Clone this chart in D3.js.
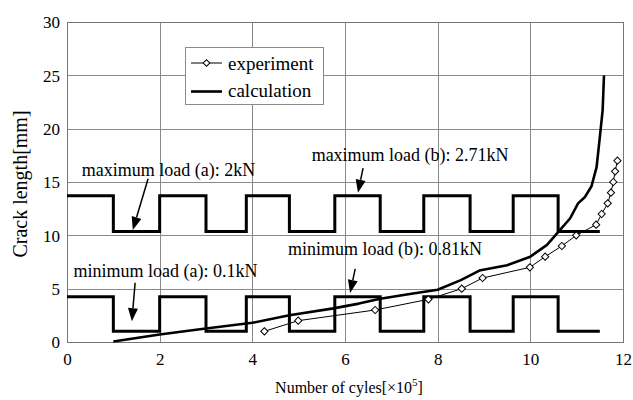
<!DOCTYPE html>
<html><head><meta charset="utf-8">
<script src="https://cdn.jsdelivr.net/npm/d3@7"></script>
<style>body{margin:0;background:#fff;}svg{display:block;}svg text{font-family:"Liberation Serif","DejaVu Serif",serif !important;fill:#000;}</style>
</head><body><svg id="c" width="633" height="400"></svg>
<script>
// ---- data ----
const xTicks = [0, 2, 4, 6, 8, 10, 12];
const yTicks = [0, 5, 10, 15, 20, 25, 30];
const expX = [4.26, 4.99, 6.65, 7.8, 8.52, 8.97, 9.99, 10.32, 10.68, 10.99, 11.42, 11.54, 11.67, 11.74, 11.79, 11.83, 11.88];
const expY = [1.0, 2.0, 3.0, 4.0, 5.0, 6.0, 7.0, 8.0, 9.0, 10.0, 11.0, 12.0, 13.0, 14.0, 15.0, 16.0, 17.0];
const calcX = [1.0, 2.0, 2.87, 4.0, 4.8, 5.75, 6.3, 6.76, 7.4, 8.0, 8.5, 8.9, 9.5, 10.0, 10.36, 10.6, 10.86, 11.03, 11.18, 11.32, 11.43, 11.5, 11.56, 11.59];
const calcY = [0.05, 0.7, 1.2, 1.8, 2.5, 3.15, 3.6, 4.05, 4.5, 4.9, 5.8, 6.7, 7.2, 8.0, 9.1, 10.3, 11.6, 13.0, 13.6, 14.6, 16.4, 19.2, 21.7, 25.0];
const loadBreaks = [0, 1.0, 2.0, 3.0, 3.87, 4.8, 5.78, 6.76, 7.7, 8.7, 9.63, 10.6, 11.5];
const loadPhase = [1, 0, 1, 0, 1, 0, 1, 0, 1, 0, 1, 0, 0]; // 1 = high, 0 = low
const maxLoadLevels = [10.35, 13.7];
const minLoadLevels = [1.0, 4.25];
const seriesNames = ["experiment", "calculation"];
const annotations = [
  {text: "maximum load (a): 2kN", tx: 0.32, ty: 15.6, ax1: 1.75, ay1: 15.3, ax2: 1.42, ay2: 10.5},
  {text: "maximum load (b): 2.71kN", tx: 5.28, ty: 17.0, ax1: 6.39, ay1: 16.3, ax2: 6.28, ay2: 14.0},
  {text: "minimum load (a): 0.1kN", tx: 0.14, ty: 6.12, ax1: 1.47, ay1: 5.55, ax2: 1.40, ay2: 1.95},
  {text: "minimum load (b): 0.81kN", tx: 4.77, ty: 8.16, ax1: 6.22, ay1: 6.85, ax2: 6.11, ay2: 4.6}
];

// ---- layout ----
const FONT = '"Liberation Serif","DejaVu Serif",serif';
const L = 67, R = 623, T = 22, B = 342;
const svg = d3.select("#c");
const x = d3.scaleLinear().domain([0, 12]).range([L, R]);
const y = d3.scaleLinear().domain([0, 30]).range([B, T]);
const gridC = "#8a8a8a";

// grid
const g = svg.append("g");
g.selectAll(".gx").data(xTicks.slice(1, -1)).join("line")
  .attr("x1", d => Math.round(x(d)) + 0.5).attr("x2", d => Math.round(x(d)) + 0.5)
  .attr("y1", T).attr("y2", B).attr("stroke", gridC).attr("stroke-width", 1);
g.selectAll(".gy").data(yTicks.slice(1, -1)).join("line")
  .attr("y1", d => Math.round(y(d)) + 0.5).attr("y2", d => Math.round(y(d)) + 0.5)
  .attr("x1", L).attr("x2", R).attr("stroke", gridC).attr("stroke-width", 1);
svg.append("rect").attr("x", L + 0.5).attr("y", T + 0.5).attr("width", R - L).attr("height", B - T)
  .attr("fill", "none").attr("stroke", "#777").attr("stroke-width", 1);

// axes tick labels via d3 axes
const xAxis = svg.append("g").attr("transform", `translate(0,${B})`)
  .call(d3.axisBottom(x).tickValues(xTicks).tickSize(0).tickPadding(11).tickFormat(d3.format("d")));
const yAxis = svg.append("g").attr("transform", `translate(${L},0)`)
  .call(d3.axisLeft(y).tickValues(yTicks).tickSize(0).tickPadding(7).tickFormat(d3.format("d")));
[xAxis, yAxis].forEach(a => {
  a.attr("font-family", FONT).attr("font-size", 17);
  a.select(".domain").remove();
  a.selectAll("text").attr("font-size", 17).style("font-family", FONT);
});
yAxis.selectAll("text").attr("dy", "0.35em");

// axis titles
const xt = svg.append("text").attr("x", 349).attr("y", 393).attr("text-anchor", "middle").attr("font-size", 16);
xt.append("tspan").text("Number of cyles[×10");
xt.append("tspan").text("5").attr("font-size", 11).attr("dy", -7);
xt.append("tspan").text("]").attr("dy", 7);
svg.append("text").attr("transform", `translate(27,184) rotate(-90)`)
  .attr("text-anchor", "middle").attr("font-size", 20).text("Crack length[mm]");

// load square waves
const step = d3.line().x(d => x(d[0])).y(d => y(d[1])).curve(d3.curveStepAfter);
[maxLoadLevels, minLoadLevels].forEach(lv => {
  const pts = loadBreaks.map((b, i) => [b, lv[loadPhase[i]]]);
  svg.append("path").attr("d", step(pts)).attr("fill", "none").attr("stroke", "#000")
    .attr("stroke-width", 3).attr("stroke-linejoin", "miter");
});

// calculation
const line = d3.line().x(d => x(d[0])).y(d => y(d[1]));
const calc = calcX.map((v, i) => [v, calcY[i]]);
svg.append("path").attr("d", line(calc)).attr("fill", "none").attr("stroke", "#000")
  .attr("stroke-width", 2.6).attr("stroke-linejoin", "round");

// experiment
const exp = expX.map((v, i) => [v, expY[i]]);
svg.append("path").attr("d", line(exp)).attr("fill", "none").attr("stroke", "#000").attr("stroke-width", 1);
svg.selectAll(".pt").data(exp).join("path")
  .attr("d", d3.symbol().type(d3.symbolSquare).size(26)())
  .attr("transform", d => `translate(${x(d[0])},${y(d[1])}) rotate(45)`)
  .attr("fill", "#fff").attr("stroke", "#000").attr("stroke-width", 1);

// annotations
annotations.forEach(a => {
  svg.append("text").attr("x", x(a.tx)).attr("y", y(a.ty)).attr("font-size", 18).text(a.text);
  const x1 = x(a.ax1), y1 = y(a.ay1), x2 = x(a.ax2), y2 = y(a.ay2);
  const ang = Math.atan2(y2 - y1, x2 - x1);
  const hl = 13, hw = 5;
  const bx = x2 - hl * Math.cos(ang), by = y2 - hl * Math.sin(ang);
  svg.append("line").attr("x1", x1).attr("y1", y1).attr("x2", bx).attr("y2", by)
    .attr("stroke", "#000").attr("stroke-width", 1.5);
  const px = -Math.sin(ang), py = Math.cos(ang);
  svg.append("path").attr("d", `M${x2},${y2}L${bx + hw * px},${by + hw * py}L${bx - hw * px},${by - hw * py}Z`).attr("fill", "#000");
});

// legend
const lg = svg.append("g");
lg.append("rect").attr("x", 185.5).attr("y", 47.5).attr("width", 138).attr("height", 57)
  .attr("fill", "#fff").attr("stroke", gridC);
lg.append("line").attr("x1", 191).attr("x2", 222).attr("y1", 63).attr("y2", 63).attr("stroke", "#000").attr("stroke-width", 1);
lg.append("path").attr("d", d3.symbol().type(d3.symbolSquare).size(22)())
  .attr("transform", "translate(206.5,63) rotate(45)").attr("fill", "#fff").attr("stroke", "#000");
lg.append("line").attr("x1", 191).attr("x2", 222).attr("y1", 91.5).attr("y2", 91.5).attr("stroke", "#000").attr("stroke-width", 2.6);
lg.selectAll(".lt").data(seriesNames).join("text")
  .attr("x", 228).attr("y", (d, i) => 70 + i * 26.5).attr("font-size", 19).text(d => d);
</script></body></html>
